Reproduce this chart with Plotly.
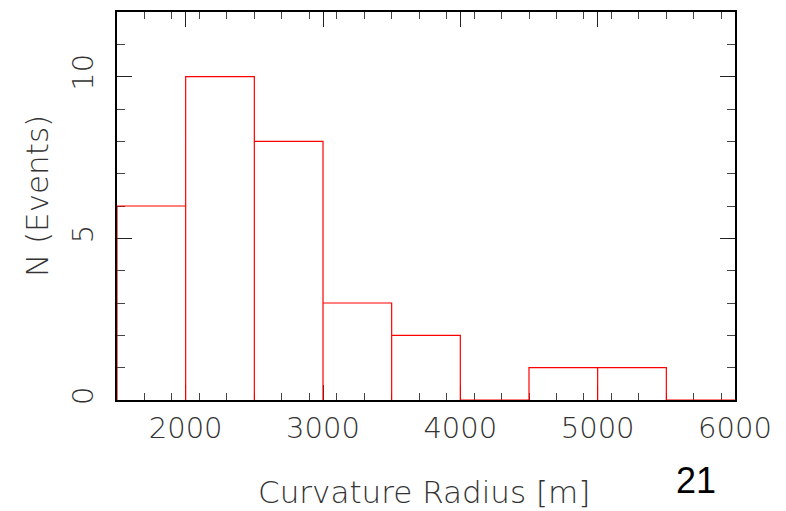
import plotly.graph_objects as go

# Histogram data: bin edges and counts
bin_edges = [1500, 2000, 2500, 3000, 3500, 4000, 4500, 5000, 5500, 6000]
counts = [6, 10, 8, 3, 2, 0, 1, 1, 0]

x_tick_vals = [2000, 3000, 4000, 5000, 6000]
y_tick_vals = [0, 5, 10]

x_title = "Curvature Radius [m]"
y_title = "N (Events)"
page_number = "21"

# Build histogram outline from the data
xs, ys = [], []
for i, c in enumerate(counts):
    x0, x1 = bin_edges[i], bin_edges[i + 1]
    xs += [x0, x0, x1, x1]
    ys += [0, c, c, 0]

FONT = "DejaVu Sans"
tick_font = dict(family=FONT, size=29, color="#333333", weight=200)
title_font = dict(family=FONT, size=31, color="#333333", weight=200)

# plot area in pixels
L, R, T, B = 117, 735, 10, 400
W, H = 786, 511


def px_to_paper(px, py):
    return (px - L) / (R - L), (B - py) / (B - T)


fig = go.Figure()
fig.add_trace(go.Scatter(
    x=xs, y=ys, mode="lines",
    line=dict(color="#ff0000", width=1.2),
    cliponaxis=False, hoverinfo="skip", showlegend=False,
))

fig.update_layout(
    width=W, height=H,
    margin=dict(l=L, r=W - R, t=T, b=H - B),
    paper_bgcolor="white", plot_bgcolor="white",
    showlegend=False,
    xaxis=dict(
        range=[bin_edges[0], bin_edges[-1]], showgrid=False, zeroline=False,
        showline=True, linecolor="black", linewidth=1.5, mirror="ticks",
        ticks="inside", ticklen=15, tickwidth=1.2, tickcolor="#222222",
        tickvals=x_tick_vals, ticktext=[str(v) for v in x_tick_vals],
        tickfont=tick_font, ticklabelstandoff=1,
        minor=dict(dtick=200, tick0=1500, ticks="inside", ticklen=7,
                   tickwidth=1.2, tickcolor="#444444"),
        layer="below traces",
    ),
    yaxis=dict(
        range=[0, 12], showgrid=False, zeroline=False,
        showline=True, linecolor="black", linewidth=1.5, mirror="ticks",
        ticks="inside", ticklen=15, tickwidth=1.2, tickcolor="#222222",
        tickvals=y_tick_vals, ticktext=[str(v) for v in y_tick_vals],
        tickfont=tick_font, tickangle=-90, ticklabelstandoff=11,
        minor=dict(dtick=1, tick0=0, ticks="inside", ticklen=8,
                   tickwidth=1.2, tickcolor="#444444"),
        layer="below traces",
    ),
)

ax, ay = px_to_paper(424, 492)
fig.add_annotation(text=x_title, x=ax, y=ay, xref="paper", yref="paper",
                   xanchor="center", yanchor="middle", showarrow=False,
                   font=title_font)
ax, ay = px_to_paper(37, 195)
fig.add_annotation(text=y_title, x=ax, y=ay, xref="paper", yref="paper",
                   xanchor="center", yanchor="middle", showarrow=False,
                   textangle=-90, font=title_font)
ax, ay = px_to_paper(696, 481)
fig.add_annotation(text=page_number, x=ax, y=ay, xref="paper", yref="paper",
                   xanchor="center", yanchor="middle", showarrow=False,
                   font=dict(family="Liberation Sans", size=36, color="black"))

fig.write_html("out.html")
